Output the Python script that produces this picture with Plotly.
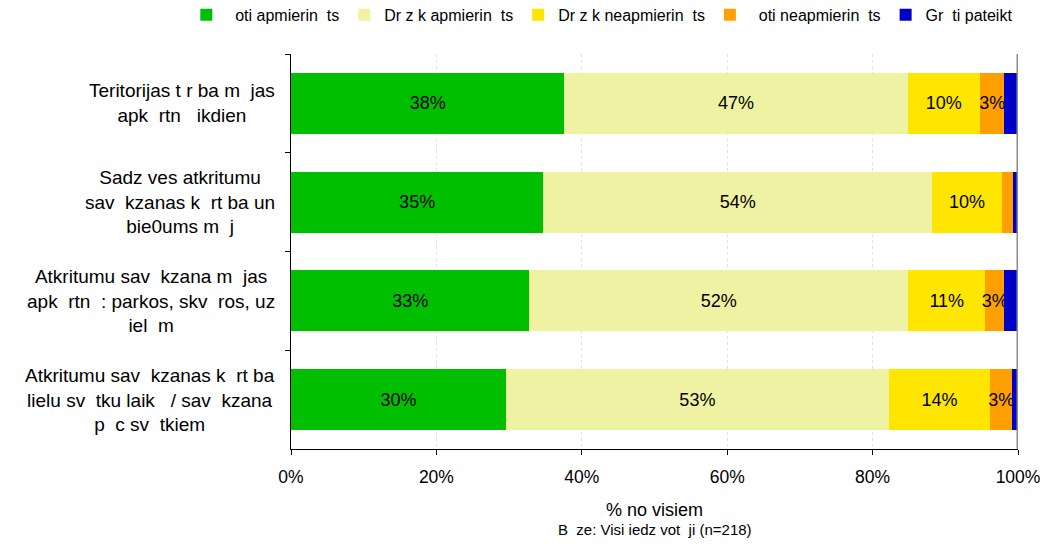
import plotly.graph_objects as go

def sp(s):
    return s.replace("  ", " \u00a0")

categories = [
    "Teritorijas t r ba m  jas<br>apk  rtn   ikdien",
    "Sadz ves atkritumu<br>sav  kzanas k  rt ba un<br>bie0ums m  j",
    "Atkritumu sav  kzana m  jas<br>apk  rtn  : parkos, skv  ros, uz<br>iel  m",
    "Atkritumu sav  kzanas k  rt ba<br>lielu sv  tku laik   / sav  kzana<br>p  c sv  tkiem",
]
series_names = [
    "  oti apmierin  ts",
    "Dr z k apmierin  ts",
    "Dr z k neapmierin  ts",
    "  oti neapmierin  ts",
    "Gr  ti pateikt",
]
very_satisfied = [37.6, 34.7, 32.8, 29.6]
rather_satisfied = [47.2, 53.5, 52.1, 52.6]
rather_unsatisfied = [10.0, 9.6, 10.6, 14.0]
very_unsatisfied = [3.3, 1.5, 2.6, 3.0]
hard_to_say = [1.9, 0.7, 1.9, 0.8]
tick_vals = [0, 20, 40, 60, 80, 100]
tick_text = ["0%", "20%", "40%", "60%", "80%", "100%"]
x_title = "% no visiem"
x_subtitle = "B  ze: Visi iedz vot  ji (n=218)"

series_values = [very_satisfied, rather_satisfied, rather_unsatisfied, very_unsatisfied, hard_to_say]
colors = ["#00BE00", "#EEF2A2", "#FFE600", "#FFA000", "#0000C8"]
show_labels = [True, True, True, True, False]

FONT = "Liberation Sans, Arial"
cats = [sp(c) for c in categories]

fig = go.Figure()
for name, vals, col, lab in zip(series_names, series_values, colors, show_labels):
    txt = [(f"{round(v)}%" if (lab and v >= 2.5) else "") for v in vals]
    fig.add_trace(go.Bar(
        y=cats, x=vals, name=sp(name), orientation="h",
        marker=dict(color=col, line=dict(width=0)),
        text=txt, textposition="inside", insidetextanchor="middle", textangle=0,
        textfont=dict(color="black", size=18, family=FONT),
        constraintext="none", cliponaxis=False,
    ))

for c in cats:
    fig.add_annotation(xref="paper", yref="y", x=0, y=c, text=c, showarrow=False,
                       xanchor="right", yanchor="middle", align="center", xshift=-14,
                       font=dict(size=19, family=FONT, color="black"))

fig.add_annotation(xref="paper", yref="paper", x=0.5, y=0, yshift=-61, text=x_title,
                   showarrow=False, xanchor="center", yanchor="middle",
                   font=dict(size=18, family=FONT, color="black"))
fig.add_annotation(xref="paper", yref="paper", x=0.5, y=0, yshift=-80, text=sp(x_subtitle),
                   showarrow=False, xanchor="center", yanchor="middle",
                   font=dict(size=15, family=FONT, color="black"))

fig.update_layout(
    barmode="stack",
    bargap=0.38,
    width=1033, height=530,
    margin=dict(l=283, r=23, t=46, b=89, autoexpand=False),
    paper_bgcolor="white", plot_bgcolor="white",
    font=dict(family=FONT, size=18, color="black"),
    uniformtext=dict(minsize=18, mode="show"),
    legend=dict(orientation="h", xref="paper", yref="paper",
                x=-0.144, y=1.142, xanchor="left", yanchor="top",
                font=dict(size=16), traceorder="normal",
                itemwidth=30, tracegroupgap=0),
    xaxis=dict(range=[0, 100], tickvals=tick_vals, ticktext=tick_text,
               showgrid=True, gridcolor="#E2E2E2", griddash="dot", gridwidth=1,
               showline=True, linecolor="black", linewidth=1,
               ticks="outside", ticklen=5, tickcolor="black", ticklabelstandoff=7,
               ticklabeloverflow="allow",
               zeroline=False, tickfont=dict(size=17.5), automargin=False),
    yaxis=dict(autorange="reversed", showline=True, linecolor="black", linewidth=1,
               ticks="outside", ticklen=5, tickcolor="black", tickson="boundaries",
               showticklabels=False, showgrid=False, automargin=False),
)
fig.add_vline(x=100, line=dict(color="#8C8C8C", width=3))

fig.write_html("out.html")
